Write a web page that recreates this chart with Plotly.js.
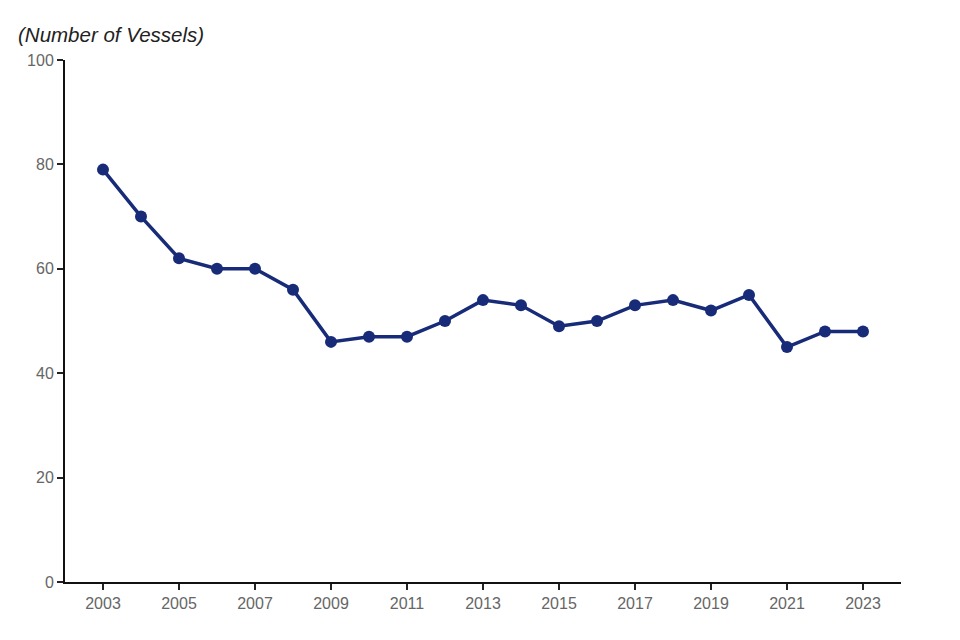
<!DOCTYPE html>
<html>
<head>
<meta charset="utf-8">
<script src="https://cdn.plot.ly/plotly-3.0.1.min.js"></script>
<style>html,body{margin:0;padding:0;background:#fff;}#chart{width:960px;height:640px;}</style>
</head>
<body>
<div id="chart"></div>
<script>
const years = [2003,2004,2005,2006,2007,2008,2009,2010,2011,2012,2013,2014,2015,2016,2017,2018,2019,2020,2021,2022,2023];
const vessels = [79,70,62,60,60,56,46,47,47,50,54,53,49,50,53,54,52,55,45,48,48];
const xTicks = [2003,2005,2007,2009,2011,2013,2015,2017,2019,2021,2023];
const yTicks = [0,20,40,60,80,100];

const trace = {
  x: years, y: vessels, type: 'scatter', mode: 'lines+markers',
  line: {color: '#172b78', width: 3.5},
  marker: {color: '#172b78', size: 12},
  hoverinfo: 'x+y'
};

const layout = {
  width: 960, height: 640,
  margin: {l: 65, r: 59, t: 60, b: 58},
  paper_bgcolor: '#fff', plot_bgcolor: '#fff',
  font: {family: 'Liberation Sans, Arial, sans-serif', size: 16, color: '#666'},
  showlegend: false,
  title: {
    text: '(Number of Vessels)', xref: 'container', yref: 'container',
    x: 18/960, xanchor: 'left', y: 1 - 35/640, yanchor: 'middle',
    font: {family: 'Liberation Sans, Arial, sans-serif', size: 20.5, color: '#222', style: 'italic'}
  },
  xaxis: {
    range: [2002, 2024], tickvals: xTicks, ticktext: xTicks.map(String),
    showgrid: false, zeroline: false, showline: true, linecolor: '#111', linewidth: 2,
    ticks: 'outside', ticklen: 6, tickwidth: 2, tickcolor: '#222',
    tickfont: {size: 16, color: '#666'}
  },
  yaxis: {
    range: [0, 100], tickvals: yTicks,
    showgrid: false, zeroline: false, showline: true, linecolor: '#111', linewidth: 2,
    ticks: 'outside', ticklen: 6, tickwidth: 2, tickcolor: '#222',
    tickfont: {size: 16, color: '#666'}
  }
};

Plotly.newPlot('chart', [trace], layout, {displayModeBar: false, staticPlot: true});
</script>
</body>
</html>
